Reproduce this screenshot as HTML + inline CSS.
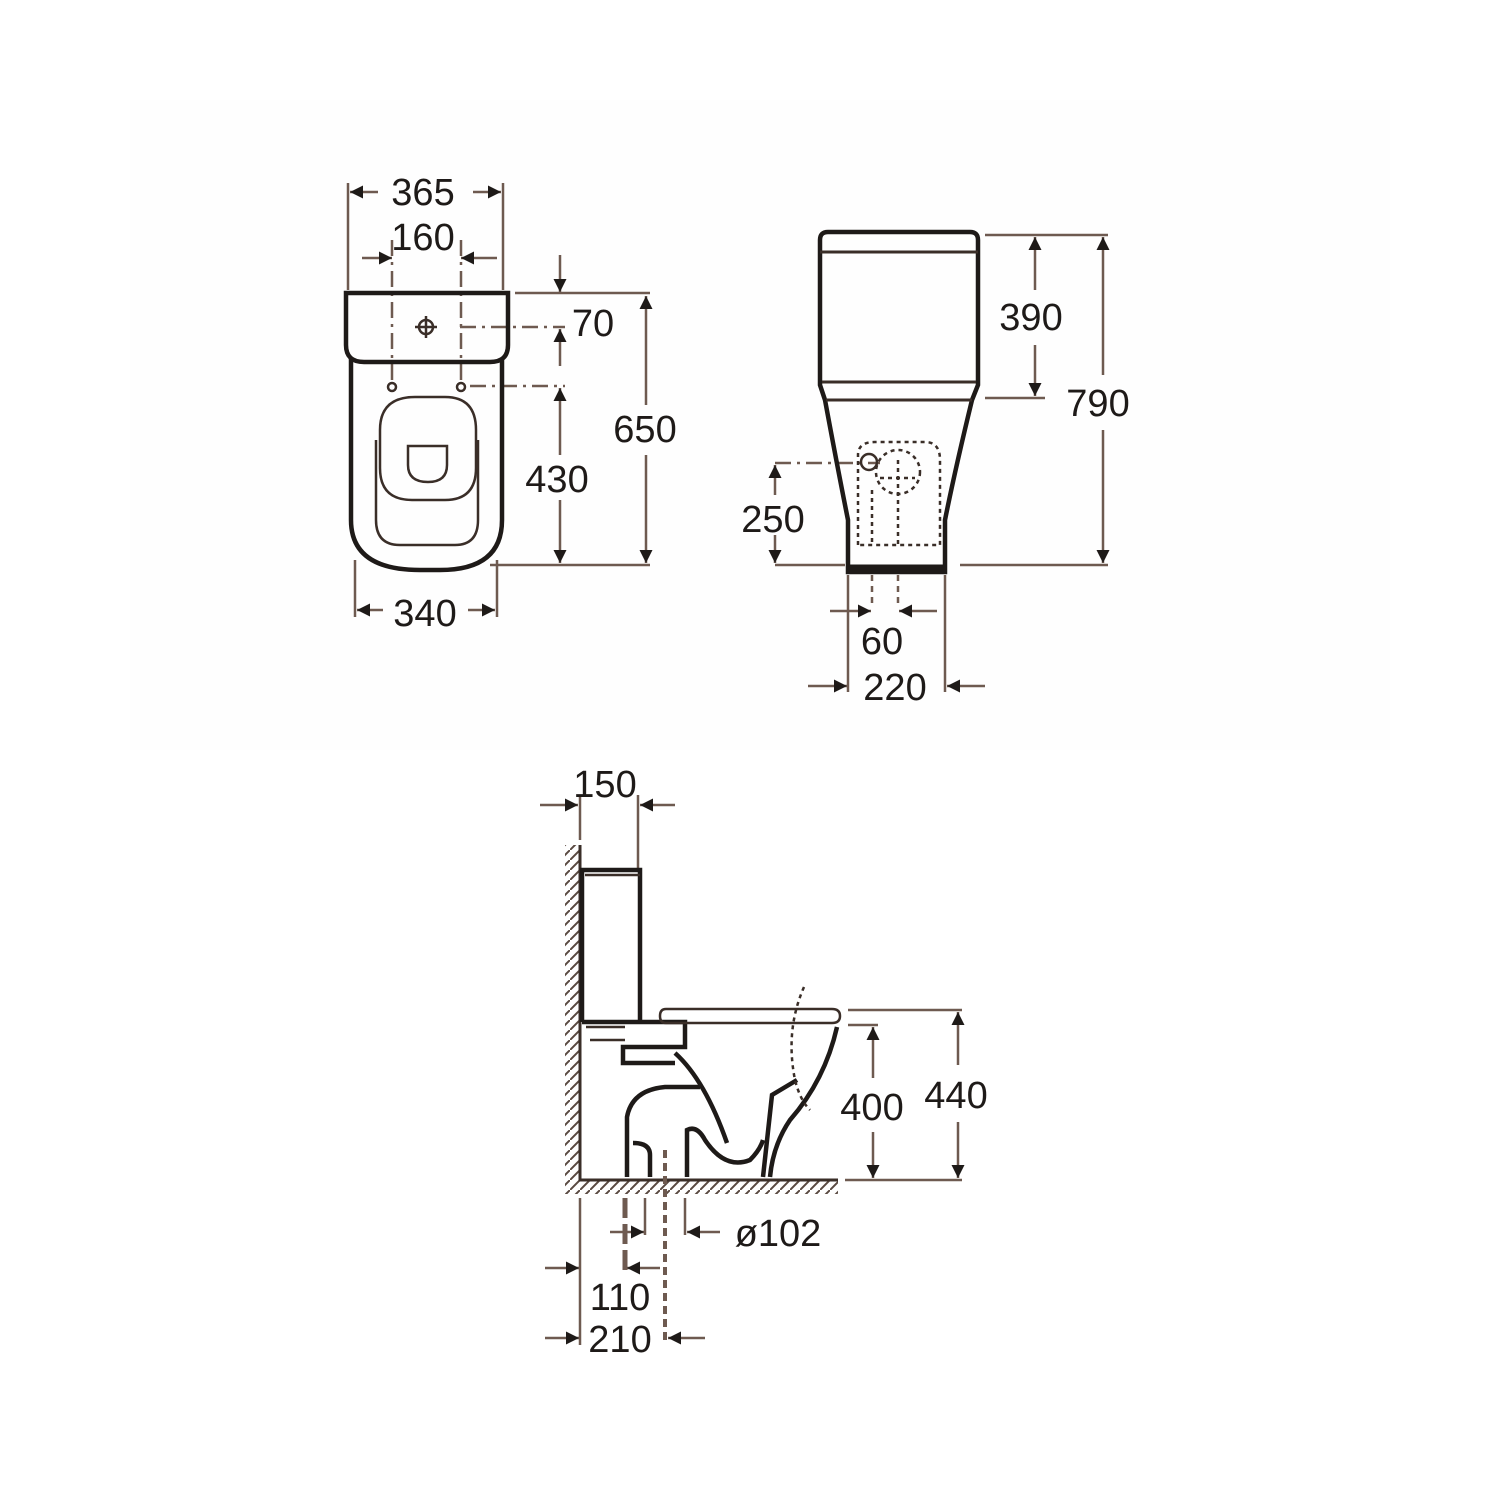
<!DOCTYPE html>
<html><head><meta charset="utf-8"><style>
html,body{margin:0;padding:0;background:#fff;}
svg{display:block}
text{font-family:"Liberation Sans",sans-serif;font-size:38px;fill:#1e1a18;text-anchor:middle}
</style></head><body>
<svg width="1500" height="1500" viewBox="0 0 1500 1500" xmlns="http://www.w3.org/2000/svg">
<defs>
<marker id="a" viewBox="0 0 10 10" refX="10" refY="5" markerWidth="20" markerHeight="13" markerUnits="userSpaceOnUse" orient="auto"><path d="M0,0 L10,5 L0,10 z" fill="#1e1a18"/></marker>
<pattern id="h" width="10" height="10" patternUnits="userSpaceOnUse"><path d="M0,10 L10,0" stroke="#5a4a42" stroke-width="2"/></pattern>
</defs>
<rect x="130" y="100" width="1260" height="650" fill="#fefefe"/>
<g fill="none" stroke="#6e5a50" stroke-width="2.5">
<path d="M348 183V290M503 183V290M355 560V617M497 560V617"/>
<path d="M515 293H650M490 565H650"/>
<path d="M460 327H565M470 386H565" stroke-dasharray="16 6 3 6"/>
<path d="M392 240V380M461 240V380" stroke-dasharray="16 6 3 6"/>
<path d="M378 192H350" marker-end="url(#a)"/>
<path d="M473 192H501" marker-end="url(#a)"/>
<path d="M362 258H392" marker-end="url(#a)"/>
<path d="M497 258H461" marker-end="url(#a)"/>
<path d="M560 255V292" marker-end="url(#a)"/>
<path d="M560 366V329" marker-end="url(#a)"/>
<path d="M560 455V388" marker-end="url(#a)"/>
<path d="M560 500V563" marker-end="url(#a)"/>
<path d="M646 405V296" marker-end="url(#a)"/>
<path d="M646 455V563" marker-end="url(#a)"/>
<path d="M383 610H357" marker-end="url(#a)"/>
<path d="M468 610H495" marker-end="url(#a)"/>
</g>
<g fill="none" stroke="#1e1a18" stroke-width="4.5">
<path d="M346 293H508V345Q508 362 490 362H364Q346 362 346 345Z"/>
<path d="M351 358V520Q351 570 420 570H440Q502 570 502 520V358"/>
</g>
<g fill="none" stroke="#3a2e28" stroke-width="2.5">
<path d="M380 430Q380 397 415 397H445Q476 397 476 430V468Q476 500 445 500H412Q380 500 380 468Z"/>
<path d="M376 440V520Q376 545 400 545H455Q478 545 478 520V440"/>
<path d="M408 446H447V465Q447 482 428 482Q408 482 408 465Z"/>
<circle cx="426" cy="327" r="7"/>
<path d="M426 316V338M415 327H437"/>
<circle cx="392" cy="387" r="4"/><circle cx="461" cy="387" r="4"/>
</g>
<text x="423" y="205">365</text>
<text x="423" y="250">160</text>
<text x="593" y="336">70</text>
<text x="557" y="492">430</text>
<text x="645" y="442">650</text>
<text x="425" y="626">340</text>

<g fill="none" stroke="#6e5a50" stroke-width="2.5">
<path d="M985 235H1108M985 398H1045M960 565H1108M775 565H845"/>
<path d="M775 463H880" stroke-dasharray="16 6 3 6"/>
<path d="M848 575V692M945 575V692"/>
<path d="M872 575V605M898 575V605" stroke-dasharray="6 5"/>
<path d="M1035 290V237" marker-end="url(#a)"/>
<path d="M1035 345V396" marker-end="url(#a)"/>
<path d="M1103 375V237" marker-end="url(#a)"/>
<path d="M1103 430V563" marker-end="url(#a)"/>
<path d="M775 495V465" marker-end="url(#a)"/>
<path d="M775 535V563" marker-end="url(#a)"/>
<path d="M830 611H871" marker-end="url(#a)"/>
<path d="M937 611H899" marker-end="url(#a)"/>
<path d="M808 686H847" marker-end="url(#a)"/>
<path d="M985 686H947" marker-end="url(#a)"/>
</g>
<g fill="none" stroke="#1e1a18" stroke-width="4.5">
<path d="M820 240Q820 232 828 232H970Q978 232 978 240V385L972 400Q955 470 945 520V572H848V520Q838 470 825 400L820 385Z"/>
<path d="M848 568H945" stroke-width="7"/>
</g>
<g fill="none" stroke="#3a2e28" stroke-width="3">
<path d="M820 252H978M822 382H976M826 400H972"/>
</g>
<g fill="none" stroke="#3a2e28" stroke-width="2.5" stroke-dasharray="4 4">
<path d="M858 545V455Q858 442 875 442H925Q940 442 940 460V545Z"/>
<circle cx="898" cy="472" r="22"/>
<path d="M880 478H915M898 460V545M872 490V545"/>
</g>
<circle cx="869" cy="462" r="8" fill="none" stroke="#3a2e28" stroke-width="2.5"/>
<text x="1031" y="330">390</text>
<text x="1098" y="416">790</text>
<text x="773" y="532">250</text>
<text x="882" y="654">60</text>
<text x="895" y="700">220</text>

<rect x="565" y="845" width="15" height="335" fill="url(#h)"/>
<rect x="565" y="1180" width="273" height="14" fill="url(#h)"/>
<g fill="none" stroke="#3a2e28" stroke-width="3">
<path d="M580 845V1180H838"/>
</g>
<g fill="none" stroke="#6e5a50" stroke-width="2.5">
<path d="M580 795V840M638 795V870"/>
<path d="M540 805H578" marker-end="url(#a)"/>
<path d="M675 805H640" marker-end="url(#a)"/>
<path d="M848 1010H962M848 1025H878M845 1180H962"/>
<path d="M873 1078V1027" marker-end="url(#a)"/>
<path d="M873 1132V1178" marker-end="url(#a)"/>
<path d="M958 1065V1012" marker-end="url(#a)"/>
<path d="M958 1122V1178" marker-end="url(#a)"/>
<path d="M580 1198V1345M685 1198V1235M645 1198V1235"/>
<path d="M625 1198V1270" stroke-width="5" stroke-dasharray="20 6"/>
<path d="M665 1150V1345" stroke-width="4" stroke-dasharray="8 5"/>
<path d="M610 1232H644" marker-end="url(#a)"/>
<path d="M720 1232H687" marker-end="url(#a)"/>
<path d="M545 1268H579" marker-end="url(#a)"/>
<path d="M660 1268H627" marker-end="url(#a)"/>
<path d="M545 1338H579" marker-end="url(#a)"/>
<path d="M705 1338H668" marker-end="url(#a)"/>
</g>
<g fill="none" stroke="#1e1a18" stroke-width="4.5">
<path d="M582 1022V870H640V1022"/>
<path d="M582 1022H685V1047H623V1063H675"/>
<path d="M675 1053Q705 1080 727 1143"/>
<path d="M627 1177V1117Q632 1090 665 1087H700"/>
<path d="M633 1143Q650 1143 650 1155V1177"/>
<path d="M687 1177V1130Q697 1125 705 1140Q725 1170 750 1160Q760 1150 763 1140"/>
<path d="M797 1080L772 1095L763 1177"/>
<path d="M837 1027Q825 1080 790 1120Q773 1145 770 1177"/>
</g>
<g fill="none" stroke="#3a2e28" stroke-width="2.5">
<path d="M666 1009H832Q840 1009 840 1016Q840 1023 832 1023H666Q660 1023 660 1016Q660 1009 666 1009Z"/>
<path d="M585 875H640M586 1027H625M590 1040H625"/>
<path d="M804 987Q785 1030 795 1080Q800 1100 810 1110" stroke-dasharray="4 4"/>
</g>
<text x="605" y="797">150</text>
<text x="872" y="1120">400</text>
<text x="956" y="1108">440</text>
<text x="778" y="1246">ø102</text>
<text x="620" y="1310">110</text>
<text x="620" y="1352">210</text>
</svg>
</body></html>
